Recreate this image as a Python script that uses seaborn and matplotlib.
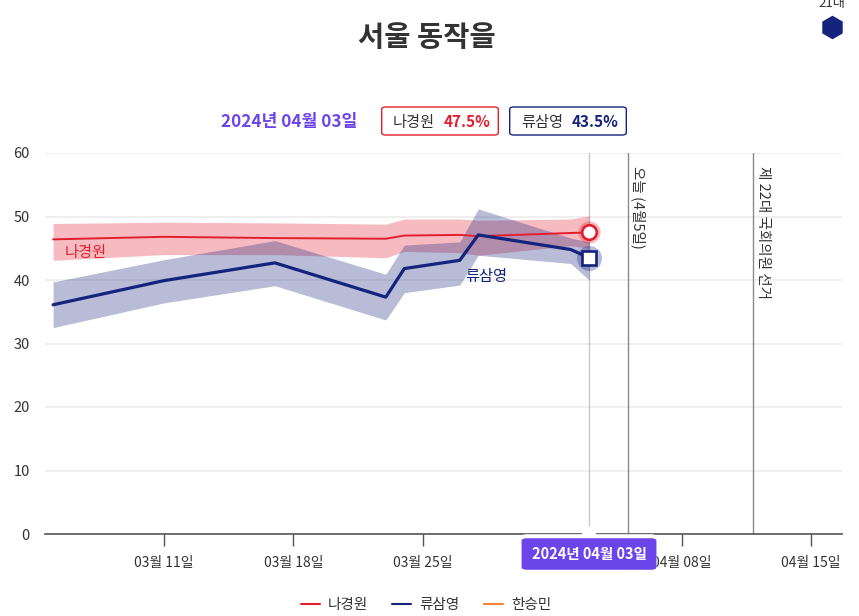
import pandas as pd
import matplotlib
matplotlib.use('Agg')
import matplotlib.pyplot as plt
import matplotlib.dates as mdates
from matplotlib.lines import Line2D
from matplotlib.patches import FancyBboxPatch, Polygon
import seaborn as sns

sns.set_theme(style='white')
plt.rcParams['font.family'] = ['Noto Sans CJK KR', 'DejaVu Sans']

# poll dates and values
dates = ['2024-03-05', '2024-03-11', '2024-03-17', '2024-03-23', '2024-03-24',
         '2024-03-27', '2024-03-28', '2024-04-02', '2024-04-03']
na_mid = [46.4, 46.8, 46.6, 46.5, 47.0, 47.1, 46.9, 47.4, 47.5]
na_high = [48.9, 49.1, 49.0, 48.8, 49.6, 49.6, 49.4, 49.6, 50.1]
na_low = [43.1, 44.0, 44.0, 43.5, 44.5, 44.3, 43.9, 45.4, 45.0]
ryu_mid = [36.1, 39.9, 42.7, 37.3, 41.8, 43.1, 47.1, 44.8, 43.5]
ryu_high = [39.7, 43.2, 46.2, 40.9, 45.5, 46.0, 51.2, 46.6, 46.0]
ryu_low = [32.5, 36.4, 39.1, 33.7, 38.0, 39.2, 43.9, 42.6, 40.0]

names = ['나경원', '류삼영', '한승민']
colors = ['#e21f2f', '#14237c', '#f58232']

# the 04-01 label sits behind the tooltip in the original, so it stays empty
tick_dates = ['2024-03-11', '2024-03-18', '2024-03-25', '2024-04-01', '2024-04-08', '2024-04-15']
tick_labels = ['03월 11일', '03월 18일', '03월 25일', '', '04월 08일', '04월 15일']
y_ticks = [0, 10, 20, 30, 40, 50, 60]

current_date = '2024-04-03'
current_label = '2024년 04월 03일'
event_dates = ['2024-04-05 03:00', '2024-04-11 21:00']
event_labels = ['오늘 (4월5일)', '제 22대 국회의원 선거']

W, H = 859, 616
DARK = '#333333'
PURPLE = '#6c45ea'


def fx(x):
    return x / W


def fy(y):
    return 1 - y / H


def num(d):
    return mdates.date2num(pd.Timestamp(d))


dt = pd.to_datetime(dates)
df = pd.DataFrame({
    'date': list(dt) * 2,
    'value': na_mid + ryu_mid,
    'name': [names[0]] * len(dt) + [names[1]] * len(dt),
})

fig = plt.figure(figsize=(W / 100, H / 100), dpi=100, facecolor='white')
ax = fig.add_axes([fx(45), fy(534), fx(842 - 45), (534 - 153) / H])

# bands first, lines on top
ax.fill_between(dt, na_low, na_high, color=colors[0], alpha=0.3, lw=0, zorder=2)
ax.fill_between(dt, ryu_low, ryu_high, color=colors[1], alpha=0.3, lw=0, zorder=2.1)

sns.lineplot(data=df[df['name'] == names[0]], x='date', y='value', color=colors[0],
             linewidth=1.4, legend=False, ax=ax, zorder=3)
sns.lineplot(data=df[df['name'] == names[1]], x='date', y='value', color=colors[1],
             linewidth=2.3, legend=False, ax=ax, zorder=3)

# x limits so that 03-11 lands on 164px and 04-15 on 811px
px_day = (811 - 164) / 35
x0 = num('2024-03-11') - (164 - 45) / px_day
x1 = num('2024-03-11') + (842 - 164) / px_day
ax.set_xlim(x0, x1)
ax.set_ylim(0, 60)

ax.set_xticks([num(d) for d in tick_dates])
ax.set_xticklabels(tick_labels)
ax.set_yticks(y_ticks)
ax.set_xlabel('')
ax.set_ylabel('')
ax.tick_params(axis='x', length=8.5, width=1, color='#555555', labelsize=10,
               labelcolor=DARK, pad=7, bottom=True)
ax.tick_params(axis='y', length=0, labelsize=10.5, labelcolor=DARK, pad=11)
ax.grid(axis='y', color='#ececec', linewidth=1.2)
ax.set_axisbelow(True)
for side in ['top', 'right', 'left']:
    ax.spines[side].set_visible(False)
ax.spines['bottom'].set_color('#555555')
ax.spines['bottom'].set_linewidth(1.2)

# current date and event lines
ax.axvline(num(current_date), color='#c8c8c8', linewidth=1, zorder=1.5)
for d, label in zip(event_dates, event_labels):
    ax.axvline(num(d), color='#8a8a8a', linewidth=1, zorder=1.5)
    ax.text(num(d) + 10 / px_day, 58, label, rotation=270, ha='center', va='top',
            fontsize=10.5, color=DARK)

# last-point markers with halo
last = pd.Timestamp(dates[-1])
ax.plot([last], [na_mid[-1]], 'o', ms=16, color=colors[0], alpha=0.3, mew=0, zorder=4, clip_on=False)
ax.plot([last], [ryu_mid[-1]], 'o', ms=18, color=colors[1], alpha=0.3, mew=0, zorder=4, clip_on=False)
ax.plot([last], [na_mid[-1]], 'o', ms=10.5, mfc='white', mec=colors[0], mew=1.9, zorder=5)
ax.plot([last], [ryu_mid[-1]], 's', ms=10, mfc='white', mec=colors[1], mew=1.9, zorder=5)

# name labels next to the lines
ax.text(num(dates[0]) + 0.6, 44.3, names[0], color=colors[0], fontsize=11, va='center')
ax.text(num('2024-03-27') + 0.3, 40.6, names[1], color=colors[1], fontsize=11, va='center')

# title and header
fig.text(fx(427), fy(38), '서울 동작을', fontsize=20.5, fontweight='bold', color=DARK,
         ha='center', va='center')
fig.text(fx(289.5), fy(122), current_label, fontsize=12.4, fontweight='bold', color=PURPLE,
         ha='center', va='center')


def badge(x0, x1, name, value, color):
    box = FancyBboxPatch((fx(x0 + 4), fy(132.8)), fx(x1 - x0 - 8), 23.6 / H,
                         transform=fig.transFigure, fc='white', ec=color, lw=1,
                         mutation_aspect=H / W)
    box.set_boxstyle('round', pad=0.005, rounding_size=0.005)
    fig.add_artist(box)
    fig.text(fx(x0 + 32), fy(122), name, fontsize=11, color=DARK, ha='center', va='center')
    fig.text(fx(x0 + 85), fy(122), value, fontsize=11, fontweight='bold', color=color,
             ha='center', va='center')


badge(382, 498, names[0], '47.5%', colors[0])
badge(510, 626, names[1], '43.5%', colors[1])

# clipped hexagon item at the top right
fig.text(fx(832), fy(3), '21대', fontsize=9.5, color=DARK, ha='center', va='center')
fig.add_artist(Line2D([fx(832)], [fy(27)], marker='h', ms=17, color=colors[1], mew=0,
                      transform=fig.transFigure))

# tooltip under the current date
tip = FancyBboxPatch((fx(525), fy(568)), fx(128), 28 / H, transform=fig.transFigure,
                     fc=PURPLE, ec='none', mutation_aspect=H / W, zorder=10)
tip.set_boxstyle('round', pad=0.004, rounding_size=0.006)
fig.add_artist(tip)
under = FancyBboxPatch((fx(525), fy(568)), fx(128), 32 / H, transform=fig.transFigure,
                       fc='white', ec='none', mutation_aspect=H / W, zorder=9)
under.set_boxstyle('round', pad=0.004, rounding_size=0.006)
fig.add_artist(under)
fig.add_artist(Polygon([[fx(580), fy(536)], [fx(589), fy(526)], [fx(598), fy(536)]],
                       transform=fig.transFigure, fc='white', ec='none', zorder=9))
fig.text(fx(589), fy(554), current_label, fontsize=10.5, fontweight='bold', color='white',
         ha='center', va='center', zorder=11)

# legend, third name has no line in this chart
handles = [Line2D([], [], color=c, linewidth=1.5) for c in colors]
fig.legend(handles, names, loc='center', bbox_to_anchor=(fx(426), fy(605)), ncol=3, frameon=False,
           fontsize=10.5, labelcolor=DARK, handlelength=1.3, handletextpad=0.55,
           columnspacing=1.7, borderpad=0)

fig.savefig('out.png', dpi=100)
